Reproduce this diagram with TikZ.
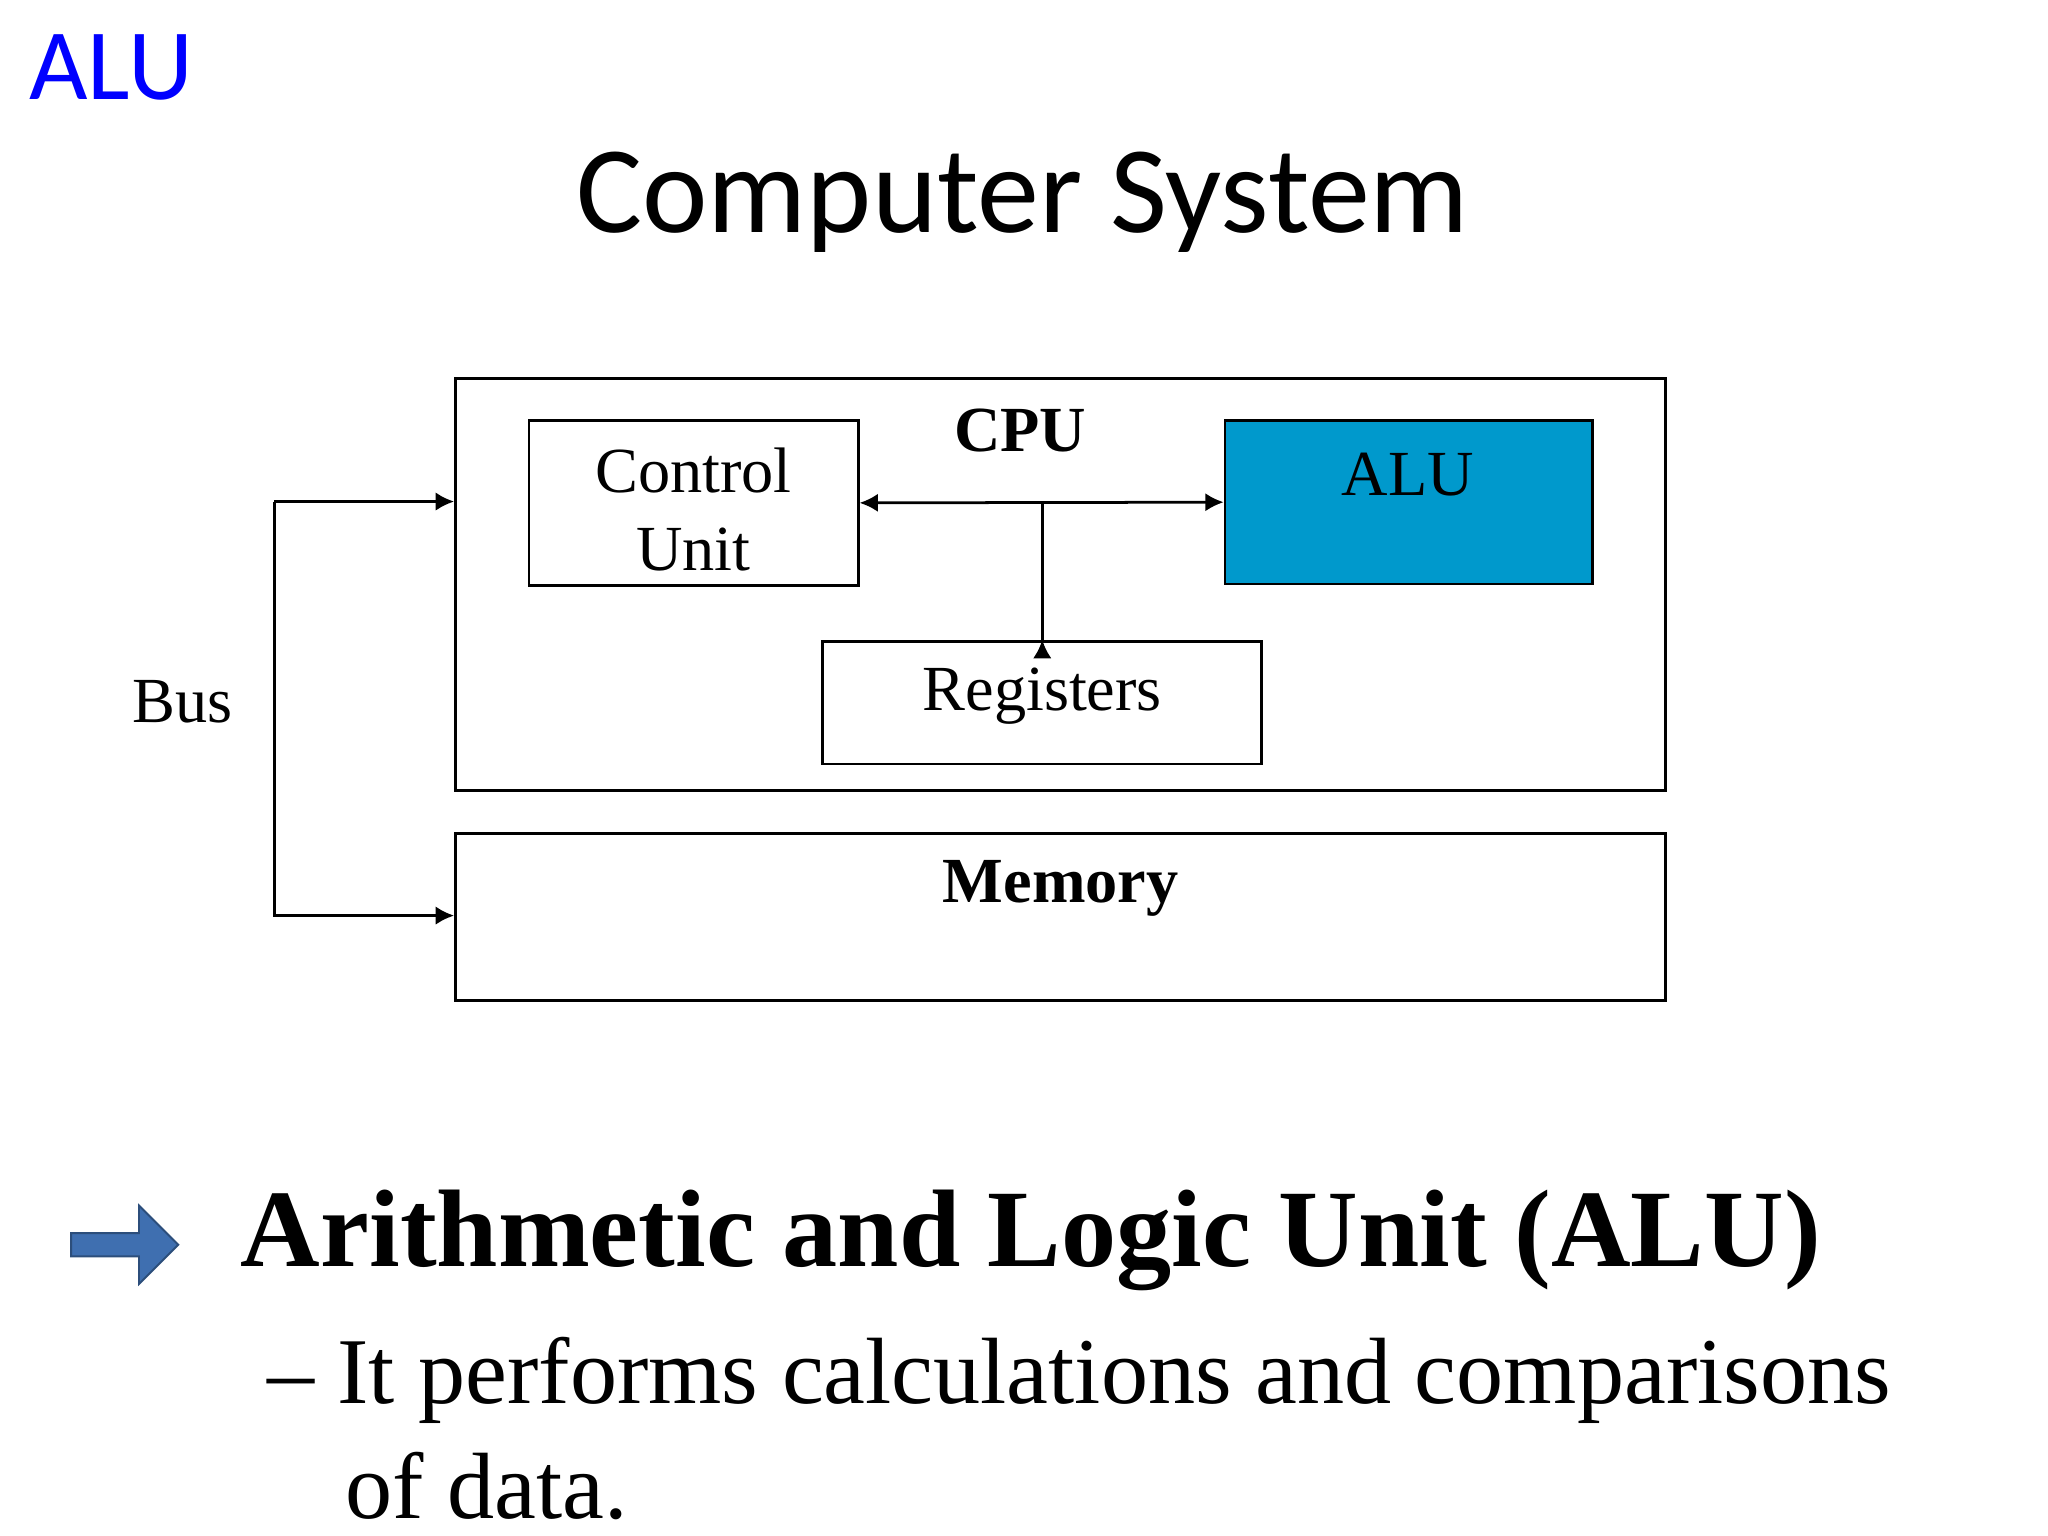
\documentclass[tikz,border=0pt]{standalone}
\usepackage{fontspec}
\setmainfont{Liberation Serif}
\newfontfamily\carlfont{Carlito}
\usetikzlibrary{arrows.meta,shapes.arrows}
\definecolor{alublue}{HTML}{0099CC}
\definecolor{arrblue}{HTML}{3F6FB0}
\begin{document}
\begin{tikzpicture}[x=0.01cm,y=-0.01cm,
  box/.style={draw,line width=0.6pt,inner sep=0},
  con/.style={line width=0.6pt,-{Latex[length=4pt,width=4pt]}},
  bcon/.style={line width=0.6pt,{Latex[length=4pt,width=4pt]}-{Latex[length=4pt,width=4pt]}},
  lab/.style={font=\fontsize{14}{17}\selectfont,align=center}]
\useasboundingbox (0,0) rectangle (1568,1176);
\node[anchor=west,text=blue,font=\carlfont\fontsize{22}{26}\selectfont] (t1) at (10,52) {ALU};
\node[font=\carlfont\fontsize{27}{32}\selectfont] (t2) at (783,155) {Computer System};
\node[box,minimum width=9.26cm,minimum height=3.15cm] (cpu) at (812,447.5) {};
\node[box,minimum width=2.52cm,minimum height=1.26cm] (cu) at (531,385) {};
\node[lab] at (531,390) {Control\\Unit};
\node[lab,font=\bfseries\fontsize{14}{17}\selectfont] (cpul) at (781,330) {CPU};
\node[box,fill=alublue,minimum width=2.81cm,minimum height=1.25cm] (alu) at (1078.5,384.5) {};
\node[lab] at (1078,363) {ALU};
\node[box,minimum width=3.36cm,minimum height=0.94cm] (reg) at (798,538) {};
\node[lab] at (798,533) {Registers};
\node[box,minimum width=9.26cm,minimum height=1.28cm] (mem) at (812,702) {};
\node[lab,font=\bfseries\fontsize{14}{17}\selectfont] at (812,680) {Memory};
\node[lab] (bus) at (140,537) {Bus};
\draw[bcon] (cu.east) -- (alu.west);
\coordinate (j) at (798,384);
\draw[con] (j) -- (reg.north -| j) ++(0,0);
\coordinate (b1) at (210,384);
\coordinate (b2) at (210,701);
\draw[con] (b1) -- (cpu.west |- b1);
\draw[con] (b1) -- (b2) -- (mem.west |- b2);
\node[single arrow,draw=arrblue!70!black,fill=arrblue,minimum height=0.82cm,minimum width=0.6cm,single arrow head extend=0.05cm,inner sep=0.4pt] (ba) at (91,953) {};
\node[anchor=west,font=\bfseries\fontsize{24}{29}\selectfont] at (172,950) {Arithmetic and Logic Unit (ALU)};
\node[anchor=west,font=\fontsize{20.5}{25}\selectfont] at (192,1057) {– It performs calculations and comparisons};
\node[anchor=west,font=\fontsize{20.5}{25}\selectfont] at (252,1138) {of data.};
\end{tikzpicture}
\end{document}
